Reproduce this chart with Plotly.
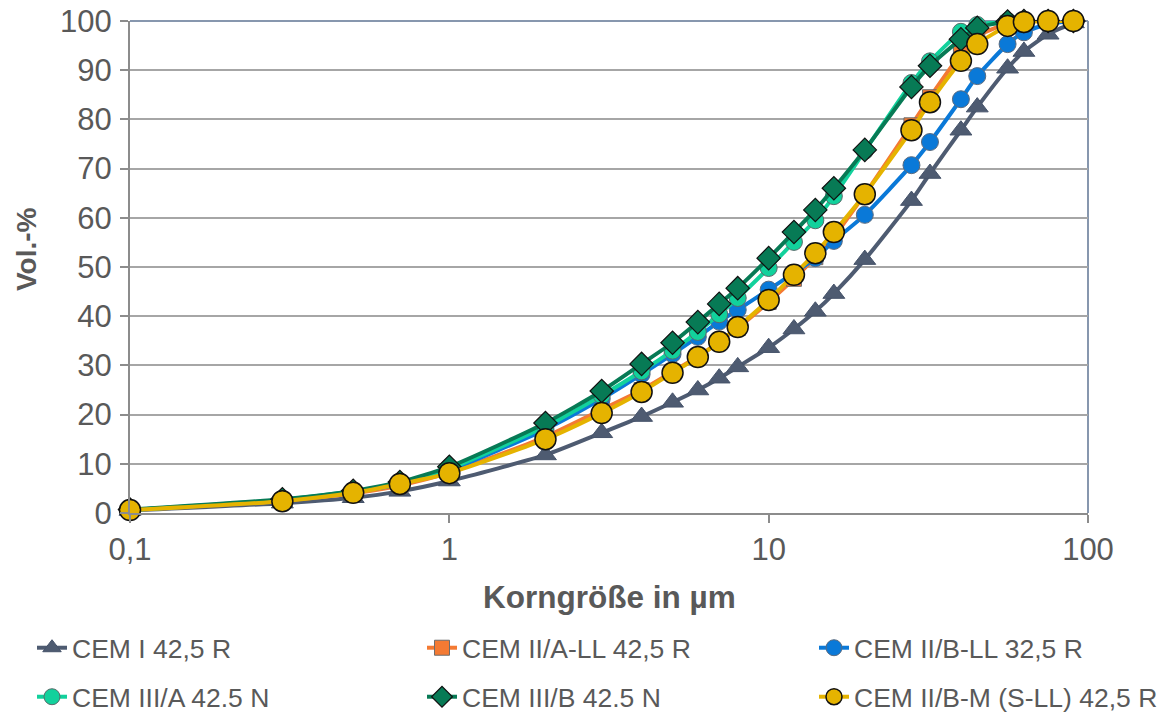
import plotly.graph_objects as go

# particle size in µm
korn = [0.1, 0.3, 0.5, 0.7, 1, 2, 3, 4, 5, 6, 7, 8, 10, 12, 14, 16, 20, 28, 32, 40, 45, 56, 63, 75, 90]

cem_i_425r = [0.5, 2.0, 3.1, 4.4, 6.5, 11.8, 16.3, 19.6, 22.5, 25.0, 27.4, 29.7, 33.6, 37.4, 41.0, 44.6,
              51.5, 63.5, 69.0, 77.8, 82.5, 90.4, 93.8, 97.3, 99.6]
cem_iia_ll_425r = [0.6, 2.5, 4.0, 5.6, 8.2, 15.5, 21.0, 25.0, 28.7, 31.8, 34.8, 37.6, 42.9, 47.6, 52.0, 56.2,
                   64.8, 78.8, 84.5, 93.3, 96.9, 99.5, 99.9, 100, 100]
cem_iib_ll_325r = [0.6, 2.6, 4.3, 5.9, 8.7, 17.0, 23.2, 28.2, 32.3, 35.8, 38.9, 41.3, 45.4, 48.8, 51.8, 55.3,
                   60.6, 70.7, 75.4, 84.1, 88.8, 95.3, 97.7, 99.4, 100]
cem_iiia_425n = [0.6, 2.7, 4.4, 6.0, 9.0, 17.6, 23.9, 28.8, 33.0, 36.8, 40.4, 43.7, 49.8, 55.1, 59.5, 64.4,
                 73.6, 87.4, 91.8, 97.8, 99.2, 100, 100, 100, 100]
cem_iiib_425n = [0.7, 2.8, 4.5, 6.3, 9.4, 18.3, 24.8, 30.3, 34.6, 38.8, 42.5, 45.7, 51.8, 57.1, 61.6, 66.0,
                 73.8, 86.6, 90.9, 96.3, 98.6, 99.9, 100, 100, 100]
cem_iib_m_425r = [0.6, 2.4, 4.1, 5.9, 8.1, 15.0, 20.3, 24.6, 28.5, 31.7, 34.8, 37.8, 43.3, 48.4, 52.8, 57.1,
                  64.8, 77.8, 83.5, 91.9, 95.3, 99.0, 99.8, 100, 100]

series_names = ["CEM I 42,5 R", "CEM II/A-LL 42,5 R", "CEM II/B-LL 32,5 R",
                "CEM III/A 42.5 N", "CEM III/B 42.5 N", "CEM II/B-M (S-LL) 42,5 R"]
series_values = [cem_i_425r, cem_iia_ll_425r, cem_iib_ll_325r, cem_iiia_425n, cem_iiib_425n, cem_iib_m_425r]

x_tickvals = [0.1, 1, 10, 100]
x_ticktext = ["0,1", "1", "10", "100"]
y_tickvals = list(range(0, 101, 10))

styles = [
    dict(color="#4E5B71", symbol="triangle-up", size=19, lc="#46536a", lw=1),
    dict(color="#F47A33", symbol="square", size=15, lc="#6d6d6d", lw=1),
    dict(color="#0A79D8", symbol="circle", size=17, lc="#5a6b80", lw=1),
    dict(color="#12D19C", symbol="circle", size=17, lc="#5a6b6b", lw=1),
    dict(color="#077A55", symbol="diamond", size=18, lc="#111111", lw=1.2),
    dict(color="#E5B300", symbol="circle", size=21, lc="#111111", lw=1.5),
]

FONT = "Liberation Sans, Arial, sans-serif"
TXT = "#595959"
W, H = 1169, 716
PL, PR, PT, PB = 130, 1088, 21, 513

fig = go.Figure()
for i, (name, vals, st) in enumerate(zip(series_names, series_values, styles)):
    fig.add_trace(go.Scatter(
        x=korn, y=vals, name=name, mode="lines+markers",
        line=dict(color=st["color"], width=4, shape="spline", smoothing=0.6),
        marker=dict(symbol=st["symbol"], size=st["size"], color=st["color"],
                    line=dict(color=st["lc"], width=st["lw"])),
        cliponaxis=False,
        legend="legend" if i == 0 else f"legend{i+1}",
    ))

# legend positions (pixel positions of each entry)
leg_pos = [(32, 648), (422, 648), (814, 648), (32, 697), (422, 697), (814, 697)]
legend_layout = {}
for i, (px, py) in enumerate(leg_pos):
    key = "legend" if i == 0 else f"legend{i+1}"
    legend_layout[key] = dict(
        x=px / W, y=1 - py / H, xref="container", yref="container",
        xanchor="left", yanchor="middle", orientation="h",
        font=dict(family=FONT, size=26.5, color=TXT),
        bgcolor="rgba(0,0,0,0)", borderwidth=0, itemwidth=30,
    )

fig.update_layout(
    width=W, height=H,
    margin=dict(l=PL, r=W - PR, t=PT, b=H - PB, autoexpand=False),
    paper_bgcolor="white", plot_bgcolor="white",
    font=dict(family=FONT, color=TXT),
    showlegend=True,
    **legend_layout,
)

fig.update_xaxes(
    type="log", range=[-1, 2], automargin=False,
    tickvals=x_tickvals, ticktext=x_ticktext,
    tickfont=dict(family=FONT, size=31, color=TXT),
    ticks="outside", ticklen=8, tickwidth=1.5, tickcolor="#8C8C8C",
    showline=True, linecolor="#8C8C8C", linewidth=2,
    showgrid=False, zeroline=False,
    ticklabelstandoff=0,
)
fig.update_yaxes(
    range=[0, 100], tickvals=y_tickvals, automargin=False,
    ticksuffix="\u00a0",
    tickfont=dict(family=FONT, size=31, color=TXT),
    ticks="outside", ticklen=8, tickwidth=1.5, tickcolor="#8C8C8C",
    showline=True, linecolor="#8C8C8C", linewidth=2,
    showgrid=True, gridcolor="#A6A6A6", gridwidth=1.5,
    zeroline=False, ticklabelstandoff=2,
)

# plot area border (top and right)
fig.add_shape(type="line", xref="paper", yref="paper", x0=0, x1=1, y0=1, y1=1,
              line=dict(color="#8797AE", width=2), layer="below")
fig.add_shape(type="line", xref="paper", yref="paper", x0=1, x1=1, y0=0, y1=1,
              line=dict(color="#8797AE", width=2), layer="below")

# axis titles (positions converted from pixels to paper coordinates)
pw, ph = PR - PL, PB - PT
fig.add_annotation(text="<b>Korngröße in µm</b>", xref="paper", yref="paper",
                   x=0.5, y=(PB - 597) / ph, showarrow=False,
                   font=dict(family=FONT, size=31.5, color=TXT), yanchor="middle")
fig.add_annotation(text="<b>Vol.-%</b>", xref="paper", yref="paper",
                   x=(27 - PL) / pw, y=(PB - 249) / ph, showarrow=False, textangle=-90,
                   font=dict(family=FONT, size=28, color=TXT), xanchor="center", yanchor="middle")

fig.write_html("out.html")
